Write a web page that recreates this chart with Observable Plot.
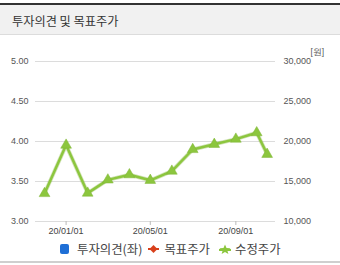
<!DOCTYPE html>
<html><head><meta charset="utf-8">
<script src="https://cdn.jsdelivr.net/npm/d3@7"></script>
<script src="https://cdn.jsdelivr.net/npm/@observablehq/plot@0.6"></script>
<style>
body{margin:0;background:#fff;width:340px;height:265px;overflow:hidden;font-family:"Noto Sans CJK KR","Noto Sans",sans-serif;}
#wrap{padding-top:3px;}
.hdr{border-top:2px solid #333;background:#f1f1f1;height:29px;border-bottom:1px solid #dcdcdc;line-height:33px;padding-left:12px;font-size:12.2px;color:#333;box-sizing:content-box;}
#chart svg{display:block;}
.legend{height:25px;display:flex;align-items:center;padding-left:60px;font-size:12.4px;color:#444;border-bottom:2px solid #cfcfcf;box-sizing:content-box;}
.legend .it{display:flex;align-items:center;}
.legend svg{display:block;}
</style></head><body>
<div id="wrap">
<div class="hdr">투자의견 및 목표주가</div>
<div id="chart"></div>
<div class="legend">
<span class="it"><svg width="9" height="10" style="margin-right:8px"><rect x="0" y="0" width="9" height="10" rx="2" fill="#1f6fd6"/></svg>투자의견(좌)</span>
<span class="it" style="margin-left:6px"><svg width="11" height="10" style="margin-right:5px"><line x1="0" y1="5" x2="11" y2="5" stroke="#d8401c" stroke-width="2"/><path d="M5.5 1 L9.5 5 L5.5 9 L1.5 5Z" fill="#d8401c"/></svg>목표주가</span>
<span class="it" style="margin-left:9px"><svg width="12" height="10" style="margin-right:4px"><line x1="0" y1="6" x2="12" y2="6" stroke="#8cc63e" stroke-width="2"/><path d="M6 0.5 L7.5 4 L11.5 4.3 L8.4 6.8 L9.4 10 L6 8.1 L2.6 10 L3.6 6.8 L0.5 4.3 L4.5 4Z" fill="#8cc63e"/></svg>수정주가</span>
</div>
</div>
<script>
const dates = ["2019-12-01","2020-01-01","2020-02-01","2020-03-01","2020-04-01","2020-05-01","2020-06-01","2020-07-01","2020-08-01","2020-09-01","2020-10-01","2020-10-16"];
const prices = [13500,19550,13550,15200,15850,15150,16300,19000,19650,20300,21100,18400];
const leftTicks = [3.00,3.50,4.00,4.50,5.00];
const rightTicks = [10000,15000,20000,25000,30000];
const xTicks = ["2020-01-01","2020-05-01","2020-09-01"];
const unitLabel = ["[원]"];

const data = dates.map((d,i)=>({date:new Date(d), price:prices[i]}));
const toRight = d3.scaleLinear().domain([3,5]).range([10000,30000]);
const fmtDate = d3.utcFormat("%y/%m/%d");
const numFont = "'Liberation Sans', Arial, sans-serif";

const chart = Plot.plot({
  width:340, height:201,
  marginTop:26, marginBottom:15, marginLeft:35, marginRight:65,
  style:{fontFamily:numFont, fontSize:"9px", color:"#555", background:"#fff"},
  x:{type:"utc", domain:[new Date("2019-11-18"), new Date("2020-10-28")]},
  y:{domain:[10000,30000]},
  marks:[
    Plot.gridY(rightTicks,{stroke:"#dcdcdc", strokeOpacity:1}),
    Plot.axisY(leftTicks.map(v=>toRight(v)),{anchor:"left", tickSize:0, tickPadding:7, tickFormat:d=>toRight.invert(d).toFixed(2), label:null, fill:"#555"}),
    Plot.axisY(rightTicks,{anchor:"right", tickSize:0, tickPadding:8, tickFormat:d3.format(","), label:null, fill:"#555"}),
    Plot.axisX(xTicks.map(d=>new Date(d)),{tickSize:4, tickPadding:2, stroke:"#bbb", tickFormat:fmtDate, label:null, fill:"#444"}),
    Plot.text(unitLabel,{frameAnchor:"top-right", dx:35, dy:-13, text:d=>d, fill:"#555", fontSize:8.5, textAnchor:"start"}),
    Plot.line(data,{x:"date", y:"price", stroke:"#7fae35", strokeWidth:4, strokeOpacity:0.35}),
    Plot.line(data,{x:"date", y:"price", stroke:"#8cc63e", strokeWidth:2.5}),
    Plot.dot(data,{x:"date", y:"price", symbol:"triangle", r:4, fill:"#8cc63e", stroke:"#7fb535", strokeWidth:0.5})
  ]
});
document.getElementById("chart").appendChild(chart);
</script>
</body></html>
